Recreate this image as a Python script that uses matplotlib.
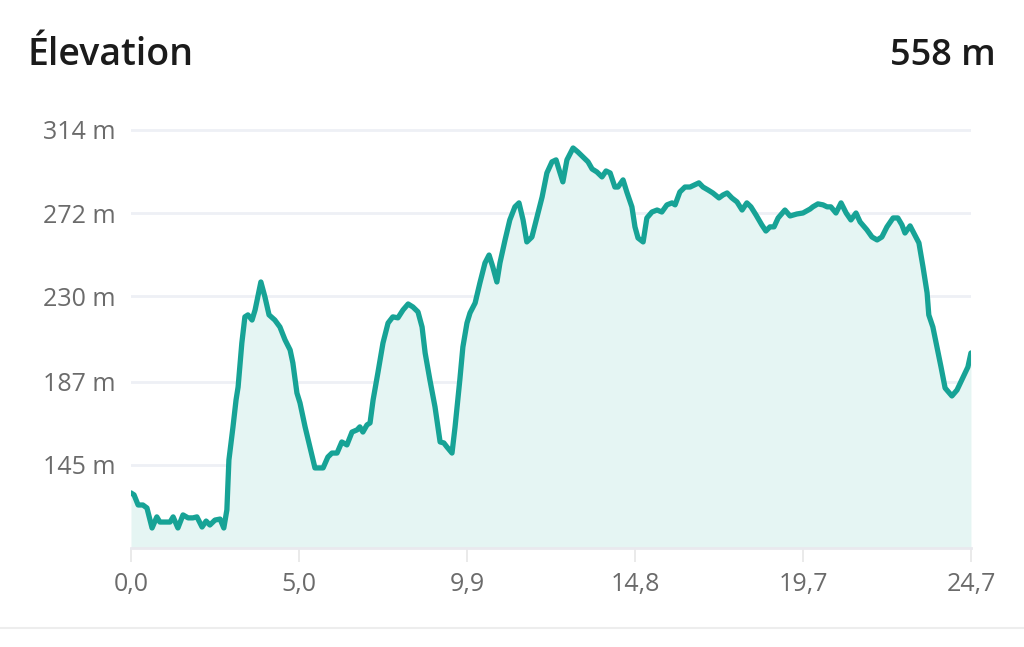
import matplotlib
matplotlib.use("Agg")
import matplotlib.pyplot as plt
from matplotlib.lines import Line2D

# distance along the route (km) and elevation (m)
distance_km = [
    0.00, 0.09, 0.21, 0.35, 0.47, 0.62, 0.76, 0.85, 1.06, 1.15, 1.24, 1.38, 1.53, 1.68, 1.82, 1.94,
    2.09, 2.21, 2.32, 2.47, 2.62, 2.73, 2.82, 2.88, 3.00, 3.09, 3.15, 3.26, 3.35, 3.44, 3.56, 3.65,
    3.82, 3.94, 4.06, 4.23, 4.38, 4.53, 4.68, 4.76, 4.88, 4.97, 5.12, 5.26, 5.41, 5.56, 5.65, 5.79,
    5.91, 6.06, 6.20, 6.35, 6.50, 6.65, 6.73, 6.82, 6.94, 7.03, 7.12, 7.26, 7.41, 7.56, 7.70, 7.85,
    8.00, 8.15, 8.29, 8.44, 8.56, 8.65, 8.79, 8.94, 9.09, 9.20, 9.29, 9.44, 9.53, 9.67, 9.76, 9.88,
    9.97, 10.12, 10.26, 10.41, 10.53, 10.64, 10.76, 10.85, 11.00, 11.14, 11.29, 11.41, 11.53, 11.64,
    11.79, 11.94, 12.09, 12.23, 12.38, 12.50, 12.59, 12.70, 12.82, 13.00, 13.14, 13.29, 13.44, 13.56,
    13.70, 13.85, 13.97, 14.09, 14.23, 14.32, 14.47, 14.58, 14.73, 14.82, 14.91, 15.06, 15.17, 15.32,
    15.47, 15.61, 15.76, 15.91, 16.00, 16.14, 16.29, 16.44, 16.58, 16.70, 16.82, 16.97, 17.11, 17.29,
    17.41, 17.53, 17.67, 17.82, 17.97, 18.11, 18.23, 18.38, 18.55, 18.67, 18.79, 18.91, 19.03, 19.23,
    19.38, 19.58, 19.76, 19.97, 20.05, 20.20, 20.35, 20.47, 20.58, 20.73, 20.88, 21.03, 21.17, 21.32,
    21.44, 21.64, 21.79, 21.94, 22.08, 22.23, 22.41, 22.55, 22.67, 22.76, 22.91, 23.05, 23.17, 23.29,
    23.41, 23.46, 23.58, 23.70, 23.82, 23.94, 24.14, 24.29, 24.46, 24.61, 24.70,
]
elevation_m = [
    130.9, 129.9, 124.8, 124.8, 123.3, 113.2, 118.8, 116.2, 116.2, 116.2, 118.8, 113.2, 119.8, 118.3, 118.3, 118.8,
    113.7, 116.7, 114.7, 117.2, 117.7, 113.2, 122.3, 147.5, 164.2, 177.8, 184.3, 206.5, 219.7, 220.7, 218.1, 223.2,
    237.3, 229.7, 220.7, 218.1, 214.6, 208.1, 203.0, 196.5, 181.3, 176.3, 164.2, 154.1, 143.5, 143.5, 143.5, 149.0,
    151.0, 151.0, 156.6, 155.1, 161.6, 162.7, 164.2, 161.6, 165.2, 166.2, 177.8, 191.4, 206.5, 216.6, 219.7, 219.2,
    223.2, 226.2, 224.7, 222.2, 214.6, 201.5, 187.9, 174.3, 156.6, 156.1, 154.1, 151.0, 164.2, 187.9, 204.5, 216.6,
    221.7, 226.7, 236.8, 246.9, 250.9, 244.9, 237.3, 246.9, 258.5, 268.6, 275.2, 277.2, 268.6, 257.5,
    260.0, 270.1, 280.2, 292.3, 297.9, 298.9, 293.8, 287.8, 298.9, 304.9, 302.9, 300.4, 297.9, 294.3,
    292.8, 290.3, 293.3, 292.3, 285.2, 285.2, 288.8, 282.7, 275.2, 265.1, 259.5, 257.5, 269.6, 272.6,
    273.6, 272.6, 276.2, 277.2, 276.2, 282.7, 285.2, 285.2, 286.3, 287.3, 285.2, 283.7, 282.2, 279.7,
    281.2, 282.2, 279.7, 277.7, 273.6, 277.2, 275.2, 271.1, 266.1, 263.0, 265.1, 265.1, 269.6, 273.6,
    270.6, 271.6, 272.1, 274.1, 275.2, 276.7, 276.2, 275.2, 275.2, 272.1, 277.2, 272.1, 268.6, 272.1,
    267.6, 263.6, 260.0, 258.5, 260.0, 265.1, 269.6, 269.6, 266.1, 262.0, 265.6, 261.0, 257.0, 244.9,
    231.8, 220.7, 214.6, 204.5, 194.4, 183.8, 179.8, 182.8, 188.9, 194.4, 201.5,
]

y_ticks = [145, 187, 230, 272, 314]
x_ticks = [0.0, 4.94, 9.88, 14.82, 19.76, 24.7]
x_labels = ["0,0", "5,0", "9,9", "14,8", "19,7", "24,7"]
title = "Élevation"
total_gain = "558 m"

LINE = "#17a396"
FILL = "#e5f5f3"
GRID = "#eef0f5"
TICK_TEXT = "#6b6b6b"

plt.rcParams["font.family"] = ["Open Sans", "DejaVu Sans"]

fig = plt.figure(figsize=(10.24, 6.47), dpi=100)
ax = fig.add_axes([0.1279, 0.153, 0.8203, 0.6523])

ax.fill_between(distance_km, elevation_m, 103.1, color=FILL, linewidth=0)
ax.plot(distance_km, elevation_m, color=LINE, linewidth=3.8,
        solid_joinstyle="round", solid_capstyle="round", zorder=3)

ax.set_xlim(0, 24.7)
ax.set_ylim(103.1, 316)

ax.set_yticks(y_ticks)
ax.set_yticklabels([f"{v} m" for v in y_ticks])
ax.set_xticks(x_ticks)
ax.set_xticklabels(x_labels)
ax.grid(axis="y", color=GRID, linewidth=2)
ax.set_axisbelow(True)

for side in ("top", "right", "left"):
    ax.spines[side].set_visible(False)
ax.spines["bottom"].set_color("#e9e9ee")
ax.spines["bottom"].set_linewidth(2)

ax.tick_params(axis="y", length=0, pad=11, labelsize=18, labelcolor=TICK_TEXT)
ax.tick_params(axis="x", length=10, width=1.2, color="#e6e6e6", pad=7,
               labelsize=18, labelcolor=TICK_TEXT)

fig.text(0.027, 0.9, title, fontsize=27, fontweight="semibold", color="#1b1b1b", va="baseline")
fig.text(0.972, 0.9, total_gain, fontsize=26, fontweight="semibold", color="#1b1b1b",
         va="baseline", ha="right")

fig.add_artist(Line2D([0, 1], [0.0294, 0.0294], transform=fig.transFigure,
                      color="#ededed", linewidth=1.5))

fig.savefig("out.png", dpi=100, facecolor="white")
